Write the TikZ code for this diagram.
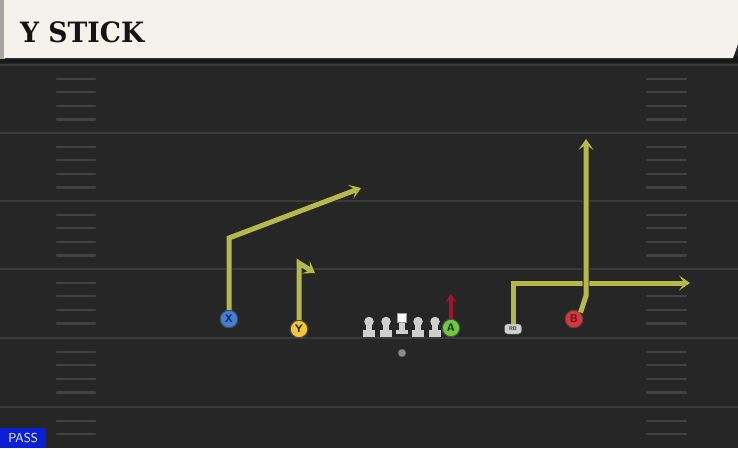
\documentclass[tikz,border=0pt]{standalone}
\usepackage{fontspec}
\usepackage{graphicx}
\setmainfont{DejaVu Sans}
\newfontfamily\titlefont{DejaVu Serif}
\usetikzlibrary{arrows.meta,calc}
\definecolor{field}{HTML}{262626}
\definecolor{yardline}{HTML}{3A3A3A}
\definecolor{hashc}{HTML}{424242}
\definecolor{cream}{HTML}{F4F2EC}
\definecolor{route}{HTML}{B5B84A}
\definecolor{blockred}{HTML}{A3122E}
\definecolor{xblue}{HTML}{3C7FE0}
\definecolor{yyellow}{HTML}{F2C531}
\definecolor{agreen}{HTML}{6CCB3C}
\definecolor{bred}{HTML}{E5303C}
\definecolor{olgray}{HTML}{CFCFCF}
\definecolor{passblue}{HTML}{0A1FD6}
\tikzset{
  x=1pt,y=-1pt,
  yardl/.style={draw=yardline,line width=2pt},
  hashl/.style={draw=hashc,line width=2.2pt,line cap=round},
  routeout/.style={draw=black!85,line width=6.8pt},
  routein/.style={draw=route,line width=5pt},
  rtip/.style={-{Stealth[length=11pt,width=15pt,inset=5.5pt,fill=route,line width=0.9pt]}},
  player/.style={circle,minimum size=17.5pt,inner sep=0pt,draw=black!70,line width=1pt,font=\sffamily\bfseries\fontsize{11}{11}\selectfont,text=black!85},
}
\begin{document}
\begin{tikzpicture}
\useasboundingbox (0,0) rectangle (738,448);
% field
\fill[field] (0,0) rectangle (738,448);
\fill[black!90] (0,56) rectangle (738,63);
% yard lines
\foreach \yy in {65,133,201,269,338,407} {
  \draw[yardl] (0,\yy) -- (738,\yy);
}
% hash marks
\foreach \base in {65,133,201,269,338} {
  \foreach \k in {1,2,3,4} {
    \draw[hashl] (57,\base+13.6*\k) -- (95,\base+13.6*\k);
    \draw[hashl] (647,\base+13.6*\k) -- (686,\base+13.6*\k);
  }
}
\foreach \k in {1,2} {
  \draw[hashl] (57,407+13.6*\k) -- (95,407+13.6*\k);
  \draw[hashl] (647,407+13.6*\k) -- (686,407+13.6*\k);
}
% title bar
\fill[black!35] (0,0) rectangle (5,59);
\fill[cream] (4,0) -- (738,0) -- (738,44) -- (733,58) -- (4,58) -- cycle;
\node[anchor=west,inner sep=0pt,font=\titlefont\bfseries\fontsize{28}{28}\selectfont,text=black!92] (title) at (20,32) {\scalebox{0.95}[1]{Y STICK}};
% PASS label
\node[anchor=south west,fill=passblue,text=white,inner sep=0pt,minimum width=46pt,minimum height=20pt,font=\sffamily\fontsize{13}{13}\selectfont] (pass) at (0,448) {PASS};

% players
\node[player,fill=xblue] (X) at (229,319) {X};
\node[player,fill=yyellow] (Y) at (299,329) {Y};
\node[player,fill=agreen] (A) at (451,328) {A};
\node[player,fill=bred] (B) at (574,319) {B};
\node[draw=black!60,fill=olgray,rounded corners=3pt,minimum width=17pt,minimum height=10pt,inner sep=0pt,font=\sffamily\bfseries\fontsize{5.5}{5.5}\selectfont,text=black!80] (RB) at (513,329) {RB};
\node[circle,fill=black!45,draw=black!70,line width=0.4pt,minimum size=8pt,inner sep=0pt] (QB) at (402,353) {};

% offensive linemen
\foreach \xx/\nm in {369/L1,386/L2,418/R2,435/R1} {
  \fill[olgray] (\xx-3,321) rectangle (\xx+3,331);
  \fill[olgray] (\xx-6,329.5) rectangle (\xx+6,336.5);
  \node[circle,fill=olgray,minimum size=9.5pt,inner sep=0pt] (\nm) at (\xx,321.5) {};
}
\fill[olgray] (399,320) rectangle (405,331);
\fill[olgray] (396,329.5) rectangle (408,334);
\node[fill=white,draw=black!40,line width=0.3pt,minimum size=9pt,inner sep=0pt] (C) at (402,317.5) {};

% routes
\coordinate (xb) at (229,238);
\coordinate (xe) at (361,188);
\coordinate (yb) at (299,263);
\coordinate (ye) at (315,273);
\coordinate (rbb) at (513,283);
\coordinate (rbe) at (690,283);
\coordinate (bb) at (586,296);
\coordinate (be) at (586,139);
\coordinate (ae) at (451,294);

% X route
\draw[routeout] (X.north) -- (xb) -- ($(xe)!7pt!(xb)$);
\draw[routein,rtip] (X.north) -- (xb) -- (xe);
% Y route
\draw[routeout] (Y.north) -- (yb) -- ($(ye)!6pt!(yb)$);
\draw[routein,rtip] (Y.north) -- (yb) -- (ye);
% RB route
\draw[routeout] (RB.north) -- (rbb) -- ($(rbe)!7pt!(rbb)$);
\draw[routein,rtip] (RB.north) -- (rbb) -- (rbe);
% B route
\draw[routeout] (B.north east) -- (bb) -- ($(be)!7pt!(bb)$);
\draw[routein,rtip] (B.north east) -- (bb) -- (be);
% A block
\draw[blockred,line width=3.2pt,-{Stealth[length=8pt,width=11pt,inset=3pt]}] (A.north) -- (ae);
\end{tikzpicture}
\end{document}
